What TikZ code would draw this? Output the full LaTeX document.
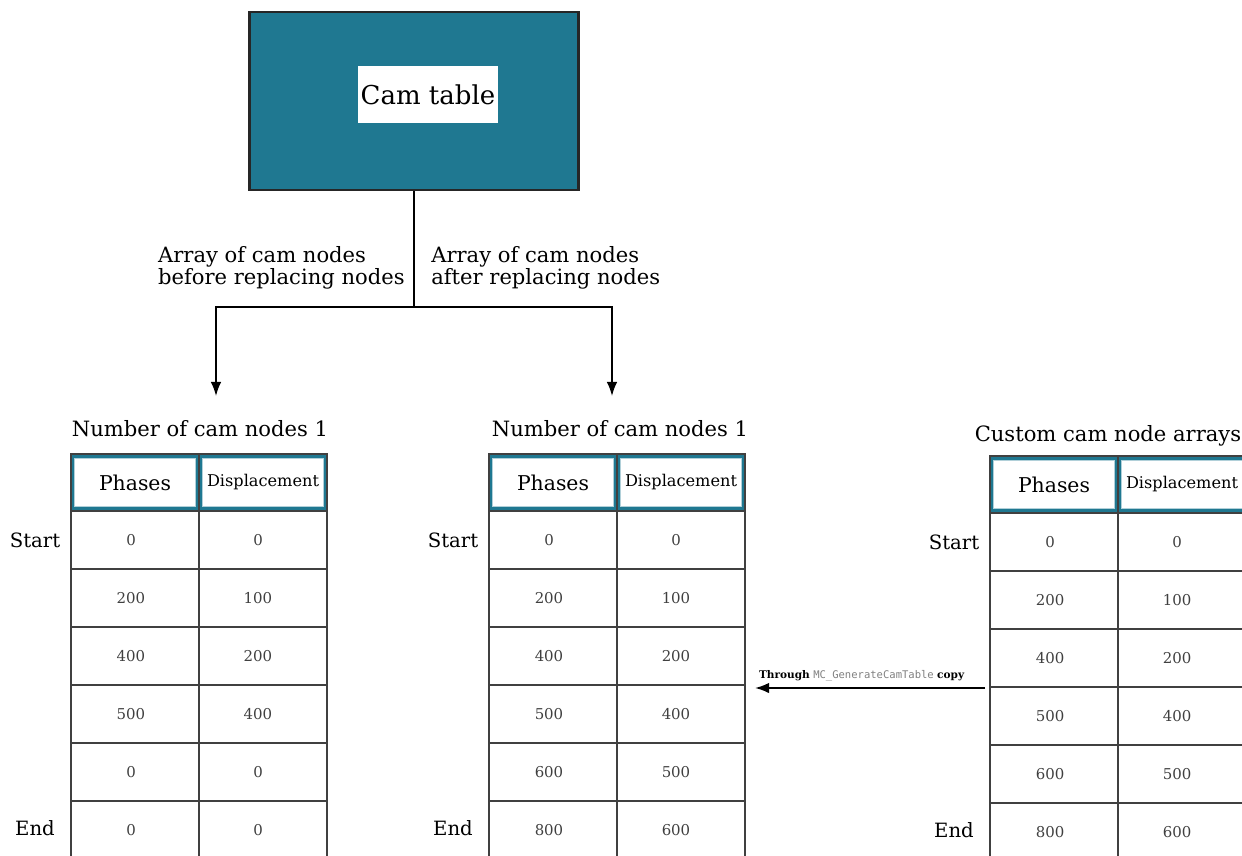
\documentclass[tikz,border=0pt]{standalone}
\usepackage{fontspec}
\setmainfont{DejaVu Serif}
\setmonofont{DejaVu Sans Mono}
\usetikzlibrary{arrows.meta}

\definecolor{camteal}{HTML}{1F7891}
\definecolor{numgray}{HTML}{404040}

\tikzset{
  conn/.style={line width=0.9pt,black},
  grid/.style={line width=0.8pt,black!75},
  hdrcell/.style={fill=white,draw=camteal!35,line width=0.5pt,minimum width=2.42cm,minimum height=0.96cm,inner sep=0pt,font=\fontsize{11.6}{13}\selectfont},
  val/.style={font=\fontsize{8.5}{10}\selectfont,text=numgray},
  rowlab/.style={font=\fontsize{11.2}{13}\selectfont},
  ttl/.style={font=\fontsize{12}{12.5}\selectfont},
}

% one cam node table: name, left x, top y, phase/displacement pairs
\newcommand{\camtab}[4]{%
  \fill[camteal] (#2,#3) rectangle ++(256,57);
  \node[hdrcell] (#1-ph) at (#2+64,#3+28.5) {Phases};
  \node[hdrcell,font=\fontsize{9.2}{11}\selectfont] (#1-dp) at (#2+192,#3+28.5) {Displacement};
  \draw[grid] (#2,#3) rectangle ++(256,57);
  \draw[grid] (#2+128,#3) -- ++(0,57);
  \foreach \ph/\dp [count=\i] in {#4} {
    \draw[grid] (#2,#3+58*\i-1) rectangle ++(128,58);
    \draw[grid] (#2+128,#3+58*\i-1) rectangle ++(128,58);
    \node[val] (#1-p\i) at (#2+60,#3+58*\i+28) {\ph};
    \node[val] (#1-d\i) at (#2+187,#3+58*\i+28) {\dp};
  }
  \node[rowlab] (#1-start) at (#2-36,#3+86) {Start};
  \node[rowlab] (#1-end) at (#2-36,#3+374) {End};
}

\begin{document}
\begin{tikzpicture}[x=0.02cm,y=-0.02cm]
\useasboundingbox (0,0) rectangle (1242,856);

% cam table block
\node[fill=camteal,draw=black!85,line width=1.2pt,minimum width=6.58cm,minimum height=3.56cm] (ct) at (414,101) {};
\node[fill=white,minimum width=2.8cm,minimum height=1.14cm,inner sep=0pt,font=\fontsize{14.8}{16}\selectfont] (ctl) at (428,94.5) {Cam table};

% branches
\coordinate (jn) at (414,307);
\coordinate (brL) at (216,396);
\coordinate (brR) at (612,396);
\draw[conn] (ct.south) -- (jn);
\draw[conn,-{Latex[length=8pt,width=6pt]}] (jn) -| (brL);
\draw[conn,-{Latex[length=8pt,width=6pt]}] (jn) -| (brR);
\node[ttl,anchor=east,align=left,inner sep=0pt] (lblL) at (405,268) {Array of cam nodes\\before replacing nodes};
\node[ttl,anchor=west,align=left,inner sep=0pt] (lblR) at (431,268) {Array of cam nodes\\after replacing nodes};

% tables
\node[ttl] (ttlA) at (200,429) {Number of cam nodes 1};
\node[ttl] (ttlB) at (620,429) {Number of cam nodes 1};
\node[ttl] (ttlC) at (1108,436) {Custom cam node arrays};
\camtab{ta}{71}{454}{0/0,200/100,400/200,500/400,0/0,0/0}
\camtab{tb}{489}{454}{0/0,200/100,400/200,500/400,600/500,800/600}
\camtab{tc}{990}{456}{0/0,200/100,400/200,500/400,600/500,800/600}

% copy arrow
\coordinate (cpS) at (985,688);
\coordinate (cpE) at (755,688);
\draw[conn,line width=1.1pt,-{Latex[length=8pt,width=6pt]}] (cpS) -- (cpE);
\node[anchor=south west,inner sep=1pt,font=\fontsize{6}{7}\selectfont] (cplbl) at (757,683) {\textbf{Through} \textcolor{gray}{\texttt{MC\_GenerateCamTable}} \textbf{copy}};
\end{tikzpicture}
\end{document}
